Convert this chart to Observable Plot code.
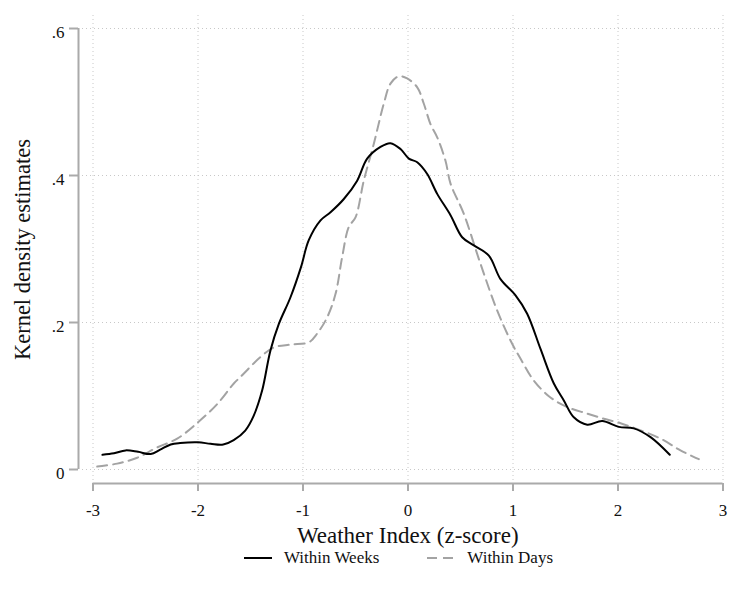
<!DOCTYPE html>
<html>
<head>
<meta charset="utf-8">
<script src="https://cdn.jsdelivr.net/npm/d3@7"></script>
<script src="https://cdn.jsdelivr.net/npm/@observablehq/plot@0.6"></script>
<style>
  body { margin: 0; background: #fff; font-family: "Liberation Serif", serif; }
  #wrap { width: 729px; }
  #legend { display: flex; justify-content: center; align-items: center; height: 26px; font-size: 17px; color: #111; padding-left: 68px; box-sizing: border-box; width: 729px; }
  #legend .item { display: flex; align-items: center; }
  #legend svg { margin-right: 12px; }
</style>
</head>
<body>
<div id="wrap"></div>
<script>
const seriesNames = ["Within Weeks", "Within Days"];

const weeksX = [-2.91,-2.80,-2.69,-2.57,-2.45,-2.36,-2.26,-2.17,-2.00,-1.88,-1.76,-1.66,-1.55,-1.47,-1.39,-1.31,-1.23,-1.12,-1.02,-0.945,-0.833,-0.738,-0.611,-0.484,-0.389,-0.262,-0.167,-0.071,0.008,0.088,0.183,0.278,0.405,0.516,0.627,0.770,0.881,1.024,1.135,1.262,1.389,1.484,1.579,1.707,1.850,2.008,2.150,2.310,2.493];
const weeksY = [0.020,0.022,0.026,0.024,0.021,0.027,0.034,0.036,0.037,0.035,0.034,0.040,0.053,0.073,0.107,0.162,0.198,0.234,0.275,0.312,0.339,0.350,0.368,0.393,0.423,0.439,0.444,0.436,0.423,0.418,0.402,0.375,0.346,0.316,0.305,0.291,0.259,0.237,0.212,0.164,0.117,0.094,0.071,0.061,0.066,0.058,0.056,0.044,0.020];

const daysX = [-2.960,-2.770,-2.579,-2.389,-2.198,-2.002,-1.817,-1.659,-1.595,-1.405,-1.278,-1.119,-0.945,-0.865,-0.770,-0.690,-0.627,-0.564,-0.500,-0.421,-0.326,-0.230,-0.167,-0.088,-0.008,0.088,0.150,0.214,0.278,0.357,0.405,0.531,0.690,0.850,0.992,1.071,1.198,1.357,1.516,1.707,1.865,2.024,2.183,2.405,2.595,2.770];
const daysY = [0.004,0.008,0.016,0.030,0.042,0.064,0.089,0.117,0.126,0.153,0.166,0.170,0.173,0.185,0.207,0.239,0.289,0.330,0.343,0.393,0.443,0.498,0.525,0.535,0.532,0.520,0.498,0.470,0.452,0.420,0.389,0.348,0.280,0.216,0.171,0.151,0.121,0.098,0.085,0.076,0.069,0.063,0.055,0.042,0.026,0.014];

const xTicks = [-3,-2,-1,0,1,2,3];
const xTickLabels = ["-3","-2","-1","0","1","2","3"];
const yTicks = [0,0.2,0.4,0.6];
const yTickLabels = ["0",".2",".4",".6"];
const xTitle = "Weather Index (z-score)";
const yTitle = "Kernel density estimates";

const weeks = weeksX.map((x,i) => ({x, y: weeksY[i]}));
const days = daysX.map((x,i) => ({x, y: daysY[i]}));

const axisColor = "#aaaaaa";
const gridColor = "#c8c8c8";
const font = "Liberation Serif, serif";

const chart = Plot.plot({
  width: 729,
  height: 545,
  marginLeft: 78,
  marginRight: 6.5,
  marginTop: 15,
  marginBottom: 62,
  style: {fontFamily: font, fontSize: "17px", background: "#fff", color: "#111", overflow: "visible"},
  x: {domain: [-3, 3], range: [92.5, 722.5]},
  y: {domain: [0, 0.6], range: [469, 28]},
  marks: [
    Plot.ruleX(xTicks, {stroke: gridColor, strokeWidth: 1, strokeDasharray: "1,3", insetBottom: 3}),
    Plot.ruleY(yTicks, {stroke: gridColor, strokeWidth: 1, strokeDasharray: "1,3", insetLeft: 4}),
    Plot.ruleY([0], {x1: -3, x2: 3, dy: 14, stroke: axisColor, strokeWidth: 2}),
    Plot.ruleX([-3], {y1: 0, y2: 0.6, dx: -14.5, stroke: axisColor, strokeWidth: 2}),
    Plot.axisX({ticks: xTicks, tickFormat: (d) => xTickLabels[xTicks.indexOf(d)], tickSize: 8, tickPadding: 12, stroke: axisColor, strokeWidth: 2, fontSize: 17, label: null}),
    Plot.axisY({ticks: yTicks, tickFormat: (d) => yTickLabels[yTicks.indexOf(d)], tickSize: 9, tickPadding: 5, stroke: axisColor, strokeWidth: 2, fontSize: 17, label: null}),
    Plot.line(days, {x: "x", y: "y", stroke: "#a3a3a3", strokeWidth: 2, strokeDasharray: "10,6", curve: "catmull-rom"}),
    Plot.line(weeks, {x: "x", y: "y", stroke: "#000", strokeWidth: 2, curve: "catmull-rom"}),
    Plot.text([xTitle], {frameAnchor: "bottom", dy: 52, dx: 7, fontSize: 23, fill: "#111", lineAnchor: "middle", textAnchor: "middle"}),
    Plot.text([yTitle], {frameAnchor: "left", dx: -56, rotate: -90, fontSize: 22.5, fill: "#111", lineAnchor: "middle", textAnchor: "middle"})
  ]
});

// the reference's y tick labels sit a few pixels below their ticks
chart.querySelectorAll("g[aria-label='y-axis tick label']").forEach(g => {
  g.setAttribute("transform", ((g.getAttribute("transform") || "") + " translate(0,4)").trim());
});

const wrap = document.getElementById("wrap");
wrap.appendChild(chart);

const legend = document.createElement("div");
legend.id = "legend";
const styles = [{dash: null, color: "#000"}, {dash: "10,6", color: "#a3a3a3"}];
seriesNames.forEach((name, i) => {
  const item = document.createElement("div");
  item.className = "item";
  if (i > 0) item.style.marginLeft = "48px";
  const s = styles[i];
  item.innerHTML = `<svg width="28" height="6"><line x1="0" x2="28" y1="3" y2="3" stroke="${s.color}" stroke-width="2" ${s.dash ? `stroke-dasharray="${s.dash}"` : ""}/></svg><span>${name}</span>`;
  legend.appendChild(item);
});
wrap.appendChild(legend);
</script>
</body>
</html>
